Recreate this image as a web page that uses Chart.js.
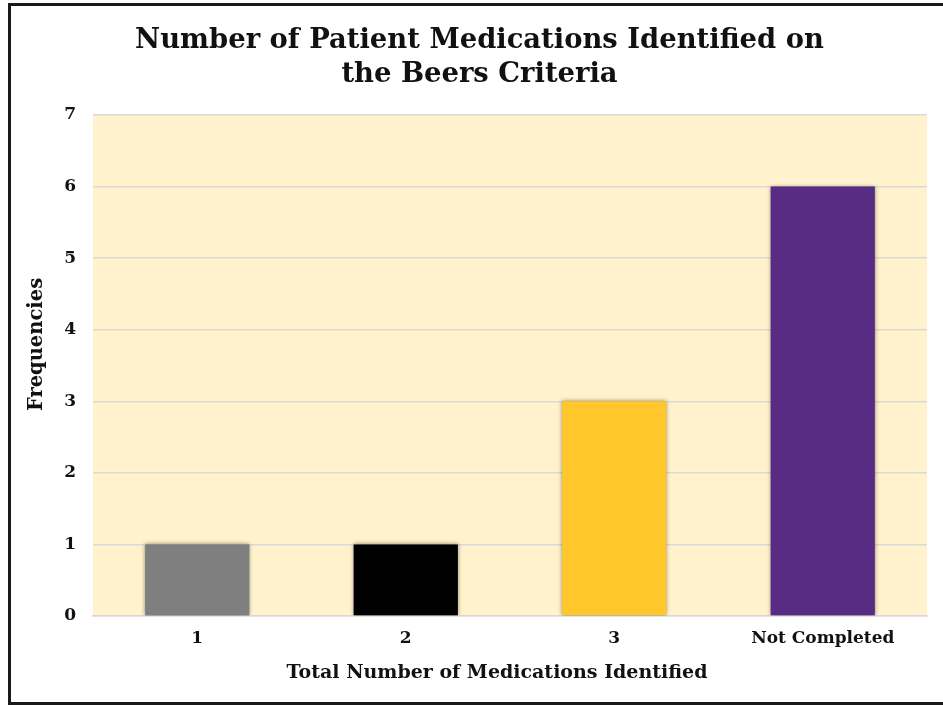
<!DOCTYPE html>
<html>
<head>
<meta charset="utf-8">
<script src="https://cdn.jsdelivr.net/npm/chart.js@4.4.1/dist/chart.umd.min.js"></script>
<style>
  html, body { margin: 0; padding: 0; background: #ffffff; }
  #frame { position: absolute; left: 8px; top: 3px; width: 935px; height: 702px; box-sizing: border-box;
           border: 3px solid #1a1a1a; border-right: none; }
  #wrap { position: absolute; left: 0; top: 0; width: 943px; height: 705px; }
</style>
</head>
<body>
<div id="frame"></div>
<div id="wrap"><canvas id="c" width="943" height="705"></canvas></div>
<script>
const categories = ["1", "2", "3", "Not Completed"];
const frequencies = [1, 1, 3, 6];
const barColors = ["#7F7F7F", "#000000", "#FFC72C", "#582C83"];
const yTicks = [0, 1, 2, 3, 4, 5, 6, 7];
const titleLines = ["Number of Patient Medications Identified on", "the Beers Criteria"];
const xTitle = "Total Number of Medications Identified";
const yTitle = "Frequencies";

const FONT = "'DejaVu Serif', 'Liberation Serif', serif";

const plotBg = {
  id: 'plotBg',
  beforeDraw(chart) {
    const {ctx, chartArea: a} = chart;
    ctx.save();
    ctx.fillStyle = '#FFF2CC';
    ctx.fillRect(a.left, a.top, a.right - a.left, a.bottom - a.top);
    ctx.restore();
  }
};
const titleShift = {
  id: 'titleShift',
  afterLayout(chart) {
    if (chart.titleBlock) { chart.titleBlock.left += 18; }
  }
};
// Axis titles, placed relative to the chart area (Excel offsets them slightly from centre)
const axisTitles = {
  id: 'axisTitles',
  afterDraw(chart) {
    const {ctx, chartArea: a} = chart;
    ctx.save();
    ctx.fillStyle = '#111111';
    ctx.textAlign = 'center';
    ctx.textBaseline = 'middle';
    ctx.font = "bold 19px " + FONT;
    ctx.fillText(xTitle, (a.left + a.right) / 2 - 13, a.bottom + 57);
    ctx.translate(37, (a.top + a.bottom) / 2 - 21);
    ctx.rotate(-Math.PI / 2);
    ctx.font = "bold 19.5px " + FONT;
    ctx.fillText(yTitle, 0, 0);
    ctx.restore();
  }
};
const barShadow = {
  id: 'barShadow',
  beforeDatasetDraw(chart) {
    const ctx = chart.ctx;
    ctx.save();
    ctx.shadowColor = 'rgba(0,0,0,0.45)';
    ctx.shadowBlur = 4;
    ctx.shadowOffsetX = 0;
    ctx.shadowOffsetY = 0;
  },
  afterDatasetDraw(chart) { chart.ctx.restore(); }
};

new Chart(document.getElementById('c'), {
  type: 'bar',
  data: {
    labels: categories,
    datasets: [{
      data: frequencies,
      backgroundColor: barColors,
      borderWidth: 0,
      categoryPercentage: 1.0,
      barPercentage: 0.5
    }]
  },
  plugins: [plotBg, titleShift, axisTitles, barShadow],
  options: {
    responsive: false,
    animation: false,
    devicePixelRatio: 1,
    layout: { padding: { left: 14, right: 16, top: 0, bottom: 0 } },
    plugins: {
      legend: { display: false },
      tooltip: { enabled: false },
      title: {
        display: true,
        text: titleLines,
        color: '#111111',
        font: { family: FONT, size: 27.4, weight: 'bold', lineHeight: 1.25 },
        padding: { top: 24, bottom: 22.5 }
      }
    },
    scales: {
      x: {
        afterFit(scale) { scale.height = 89; },
        grid: { display: false, drawTicks: false },
        border: { display: true, color: '#D9D9D9', width: 1.5 },
        ticks: { color: '#111111', padding: 12, font: { family: FONT, size: 17, weight: 'bold' } },
        title: { display: false }
      },
      y: {
        min: 0, max: 7,
        afterFit(scale) { scale.width = 79; },
        afterBuildTicks(scale) { scale.ticks = yTicks.map(v => ({ value: v })); },
        grid: { color: '#D9D9D9', lineWidth: 1.5, drawTicks: false },
        border: { display: false },
        ticks: { color: '#111111', padding: 17, font: { family: FONT, size: 17, weight: 'bold' } },
        title: { display: false }
      }
    }
  }
});
</script>
</body>
</html>
